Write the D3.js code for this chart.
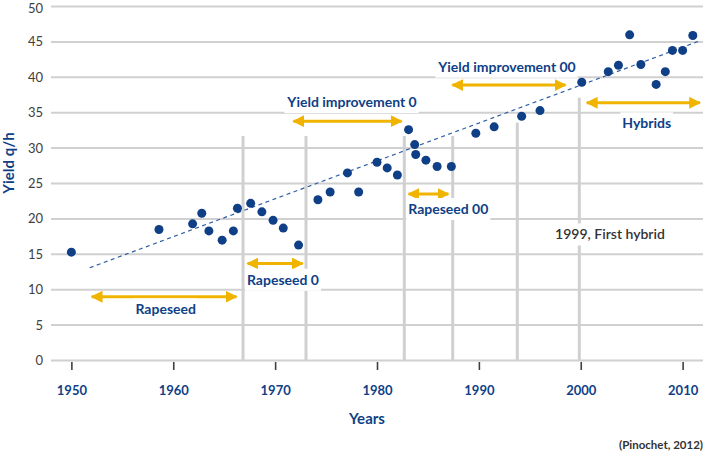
<!DOCTYPE html>
<html>
<head>
<meta charset="utf-8">
<script src="https://cdn.jsdelivr.net/npm/d3@7"></script>
<style>
  body { margin: 0; background: #fff; }
  svg { display: block; font-family: Lato, "Open Sans", sans-serif; }
</style>
</head>
<body>
<div id="chart"></div>
<script>
'use strict';

const years = [1950, 1958.6, 1961.9, 1962.8, 1963.5, 1964.8, 1965.9, 1966.3, 1967.6, 1968.7,
  1969.8, 1970.8, 1972.3, 1974.2, 1975.4, 1977.1, 1978.2, 1980.0, 1981.0, 1982.0,
  1983.1, 1983.7, 1983.8, 1984.8, 1985.9, 1987.3, 1989.7, 1991.5, 1994.2, 1996.0,
  2000.1, 2002.7, 2003.7, 2004.8, 2005.9, 2007.4, 2008.3, 2009.0, 2010.0, 2011.0];
const yields = [15.3, 18.5, 19.3, 20.8, 18.3, 17.0, 18.3, 21.5, 22.2, 21.0,
  19.8, 18.7, 16.3, 22.7, 23.8, 26.5, 23.8, 28.0, 27.2, 26.2,
  32.6, 30.5, 29.1, 28.3, 27.4, 27.4, 32.1, 33.0, 34.5, 35.3,
  39.3, 40.8, 41.7, 46.0, 41.8, 39.0, 40.8, 43.8, 43.8, 45.9];

// dashed trend line end points
const trend = [[1951.8, 13.1], [2011.6, 45.1]];

const xTicks = [1950, 1960, 1970, 1980, 1990, 2000, 2010];
const yTicks = [0, 5, 10, 15, 20, 25, 30, 35, 40, 45, 50];

// period markers: year and top of the grey line
const markerYears = [1966.85, 1973.03, 1982.68, 1987.43, 1993.77, 1999.86];
const markerTops = [31.7, 31.7, 31.7, 31.7, 33.6, 37.1];

// double arrows: start year, end year, level
const arrows = [
  [1951.9, 1966.3, 9.0],
  [1967.2, 1972.8, 13.7],
  [1971.7, 1982.5, 33.8],
  [1983.0, 1987.1, 23.5],
  [1987.3, 1998.6, 38.9],
  [2000.5, 2011.8, 36.4]
];

// annotation labels: text, year, level
const labelTexts = ['Rapeseed', 'Rapeseed 0', 'Yield improvement 0', 'Rapeseed 00',
  'Yield improvement 00', 'Hybrids', '1999, First hybrid'];
const labelYears = [1959.26, 1970.77, 1977.55, 1987.0, 1992.76, 2006.47, 2002.87];
const labelLevels = [7.2, 11.4, 36.5, 21.4, 41.5, 33.5, 17.8];

const width = 705, height = 452;
const blue = '#0f3f86', gold = '#f0b400', grid = '#d0d0d0';

const svg = d3.select('#chart').append('svg')
  .attr('width', width).attr('height', height);

const x = d3.scaleLinear().domain([1948, 2012]).range([51, 703]);
const y = d3.scaleLinear().domain([0, 50]).range([360.5, 6.5]);

// horizontal grid
svg.append('g').selectAll('line').data(yTicks).join('line')
  .attr('x1', x(1948)).attr('x2', x(2012))
  .attr('y1', d => y(d)).attr('y2', d => y(d))
  .attr('stroke', grid).attr('stroke-width', 2);

// y tick labels (top one nudged so it stays inside the page)
svg.append('g').selectAll('text').data(yTicks).join('text')
  .attr('x', 43).attr('y', d => Math.max(y(d), 8.5)).attr('dy', '0.35em')
  .attr('text-anchor', 'end').attr('font-size', 13).attr('fill', '#404040')
  .text(d => d);

// period marker lines
svg.append('g').selectAll('line').data(markerYears).join('line')
  .attr('x1', d => x(d)).attr('x2', d => x(d))
  .attr('y1', (d, i) => y(markerTops[i])).attr('y2', y(0))
  .attr('stroke', grid).attr('stroke-width', 3);

// x axis ticks
const xAxis = d3.axisBottom(x).tickValues(xTicks).tickSize(8).tickFormat(d3.format('d'));
const gx = svg.append('g').attr('transform', `translate(0,${y(0) + 1.5})`).call(xAxis);
gx.select('.domain').remove();
gx.selectAll('.tick line').attr('stroke', '#404040').attr('stroke-width', 1.6);
gx.selectAll('.tick text')
  .attr('y', 24).attr('font-family', 'Lato, sans-serif').attr('font-size', 13)
  .attr('font-weight', 'bold').attr('fill', blue);

// trend line
svg.append('line')
  .attr('x1', x(trend[0][0])).attr('y1', y(trend[0][1]))
  .attr('x2', x(trend[1][0])).attr('y2', y(trend[1][1]))
  .attr('stroke', '#2f5fa5').attr('stroke-width', 1.2)
  .attr('stroke-dasharray', '4,3.5');

// arrows
svg.append('defs').append('marker')
  .attr('id', 'head').attr('viewBox', '0 0 10 10')
  .attr('refX', 9).attr('refY', 5)
  .attr('markerWidth', 4).attr('markerHeight', 4)
  .attr('markerUnits', 'strokeWidth')
  .attr('orient', 'auto-start-reverse')
  .append('path').attr('d', 'M0,0L10,5L0,10Z').attr('fill', gold);

svg.append('g').selectAll('line').data(arrows).join('line')
  .attr('x1', d => x(d[0]) + 1).attr('x2', d => x(d[1]) - 1)
  .attr('y1', d => y(d[2])).attr('y2', d => y(d[2]))
  .attr('stroke', gold).attr('stroke-width', 3)
  .attr('marker-start', 'url(#head)').attr('marker-end', 'url(#head)');

// annotation labels with white boxes
const lab = svg.append('g').selectAll('g').data(labelTexts).join('g')
  .attr('transform', (d, i) => `translate(${x(labelYears[i])},${y(labelLevels[i])})`);
lab.append('rect').attr('fill', '#fff');
lab.append('text')
  .attr('text-anchor', 'middle').attr('dy', '0.35em').attr('font-size', 14)
  .attr('font-weight', (d, i) => i === 6 ? 600 : 'bold')
  .attr('fill', (d, i) => i === 6 ? '#333' : blue)
  .text(d => d);
lab.each(function () {
  const g = d3.select(this);
  const b = g.select('text').node().getBBox();
  g.select('rect').attr('x', b.x - 2).attr('width', b.width + 4)
    .attr('y', -11).attr('height', 22);
});

// observations
svg.append('g').selectAll('circle').data(years).join('circle')
  .attr('cx', d => x(d)).attr('cy', (d, i) => y(yields[i]))
  .attr('r', 4.5).attr('fill', blue);

// axis titles and source
svg.append('text')
  .attr('x', 367).attr('y', 419).attr('dy', '0.35em').attr('text-anchor', 'middle')
  .attr('font-size', 15).attr('font-weight', 'bold').attr('fill', blue)
  .text('Years');
svg.append('text')
  .attr('transform', 'translate(9,163) rotate(-90)').attr('dy', '0.35em')
  .attr('text-anchor', 'middle').attr('font-size', 15).attr('font-weight', 'bold')
  .attr('fill', blue).text('Yield q/h');
svg.append('text')
  .attr('x', 703).attr('y', 445).attr('dy', '0.35em').attr('text-anchor', 'end')
  .attr('font-size', 11.5).attr('font-weight', 'bold').attr('fill', '#333')
  .text('(Pinochet, 2012)');
</script>
</body>
</html>
